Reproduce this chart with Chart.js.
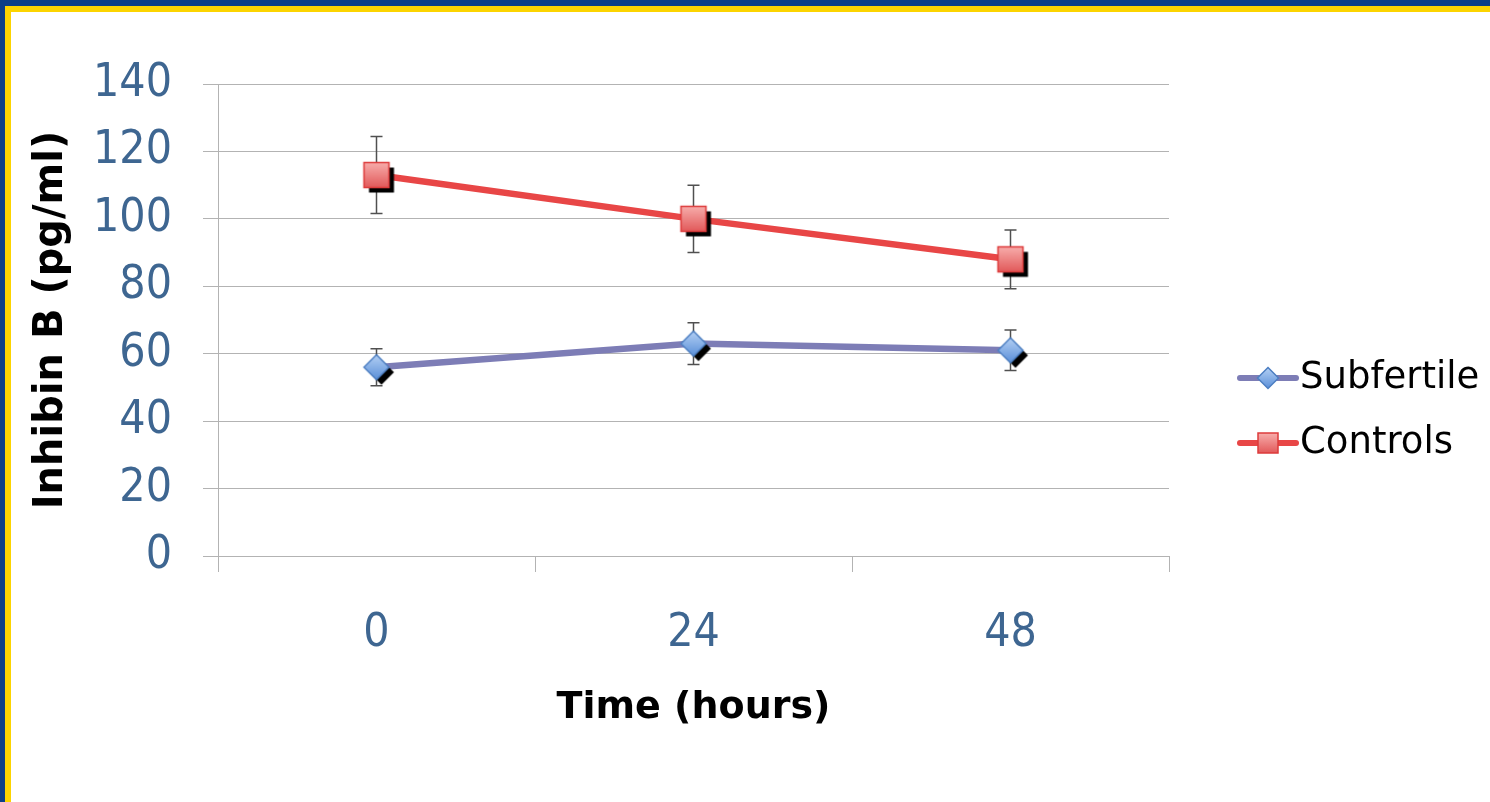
<!DOCTYPE html>
<html>
<head>
<meta charset="utf-8">
<script src="https://cdn.jsdelivr.net/npm/chart.js@4/dist/chart.umd.min.js"></script>
<style>
  html, body { margin: 0; padding: 0; width: 1490px; height: 802px; overflow: hidden; background: #0c3f86; }
  #frame { position: absolute; left: 5px; top: 6px; width: 1485px; height: 796px; background: #fcd400; }
  #inner { position: absolute; left: 11px; top: 12px; width: 1479px; height: 790px; background: #fff; }
  #wrap { position: absolute; left: 12px; top: 12px; width: 1478px; height: 790px; }
</style>
</head>
<body>
<div id="frame"></div>
<div id="inner"></div>
<div id="wrap"><canvas id="c"></canvas></div>
<script>
// ---- data ----
const categories = ['0', '24', '48'];
const seriesNames = ['Subfertile', 'Controls'];
const subfertile = [56, 63, 61];
const subfertileErr = [5.5, 6.2, 6];
const controls = [113, 100, 88];
const controlsErr = [11.4, 10, 8.7];
const yTicks = [0, 20, 40, 60, 80, 100, 120, 140];
const xTitle = 'Time (hours)';
const yTitle = 'Inhibin B (pg/ml)';

// ---- marker images ----
function makeMarker(shape, r, top, bot, stroke, shadow) {
  const off = shadow ? 5 : 0;
  const half = Math.ceil(r + 2 + off);
  const cv = document.createElement('canvas');
  cv.width = cv.height = half * 2;
  const g = cv.getContext('2d');
  const c = half;
  function path(cx, cy) {
    g.beginPath();
    if (shape === 'rect') {
      g.rect(cx - r, cy - r, 2 * r, 2 * r);
    } else {
      g.moveTo(cx, cy - r); g.lineTo(cx + r, cy); g.lineTo(cx, cy + r); g.lineTo(cx - r, cy); g.closePath();
    }
  }
  if (shadow) { path(c + off, c + off); g.fillStyle = '#000'; g.fill(); }
  const grad = g.createLinearGradient(0, c - r, 0, c + r);
  grad.addColorStop(0, top); grad.addColorStop(1, bot);
  path(c, c); g.fillStyle = grad; g.fill();
  g.lineWidth = 1.5; g.strokeStyle = stroke; g.stroke();
  return cv;
}
const diamondPt = makeMarker('diamond', 12.5, '#b4d0f4', '#5a8fd8', '#4d7fc2', true);
const squarePt = makeMarker('rect', 12.5, '#f7adab', '#e2595a', '#dd3b3b', true);
const diamondLg = makeMarker('diamond', 10.5, '#b4d0f4', '#5a8fd8', '#4d7fc2', false);
const squareLg = makeMarker('rect', 10, '#f7adab', '#e2595a', '#dd3b3b', false);

const tickColor = '#3e6691';
const gridColor = '#b3b3b3';
const tickFont = { family: "'DejaVu Sans Condensed', 'DejaVu Sans', sans-serif", size: 46 };
const xTitleFont = { family: "'DejaVu Sans', sans-serif", size: 38, weight: 'bold' };
const yTitleFont = { family: "'DejaVu Sans', sans-serif", size: 40, weight: 'bold' };

const errorBars = {
  id: 'errorBars',
  beforeDatasetsDraw(chart) {
    const ctx = chart.ctx;
    const ys = chart.scales.y;
    ctx.save();
    ctx.strokeStyle = '#505050';
    ctx.lineWidth = 1.5;
    chart.data.datasets.forEach((ds, di) => {
      const meta = chart.getDatasetMeta(di);
      meta.data.forEach((pt, i) => {
        const v = ds.data[i], e = ds.errors[i];
        const yt = ys.getPixelForValue(v + e), yb = ys.getPixelForValue(v - e);
        ctx.beginPath();
        ctx.moveTo(pt.x, yt); ctx.lineTo(pt.x, yb);
        ctx.moveTo(pt.x - 6, yt); ctx.lineTo(pt.x + 6, yt);
        ctx.moveTo(pt.x - 6, yb); ctx.lineTo(pt.x + 6, yb);
        ctx.stroke();
      });
    });
    ctx.restore();
  }
};

const sideLegend = {
  id: 'sideLegend',
  afterDraw(chart) {
    const ctx = chart.ctx;
    const x0 = chart.chartArea.right + 71;
    const yStart = 366, gap = 65;
    ctx.save();
    chart.data.datasets.forEach((ds, i) => {
      const y = yStart + i * gap;
      ctx.beginPath();
      ctx.strokeStyle = ds.borderColor;
      ctx.lineWidth = 6;
      ctx.lineCap = 'round';
      ctx.moveTo(x0, y); ctx.lineTo(x0 + 56, y);
      ctx.stroke();
      const img = ds.legendImg;
      ctx.drawImage(img, x0 + 28 - img.width / 2, y - img.height / 2);
      ctx.fillStyle = '#000';
      ctx.font = "37px 'DejaVu Sans', sans-serif";
      ctx.textBaseline = 'middle';
      ctx.textAlign = 'left';
      ctx.fillText(ds.label, x0 + 60, y);
    });
    ctx.restore();
  }
};

new Chart(document.getElementById('c'), {
  type: 'line',
  data: {
    labels: categories,
    datasets: [
      { label: seriesNames[0], data: subfertile, errors: subfertileErr, borderColor: '#7d7db6', borderWidth: 6.5,
        pointStyle: diamondPt, legendImg: diamondLg, pointRadius: 14, fill: false, tension: 0 },
      { label: seriesNames[1], data: controls, errors: controlsErr, borderColor: '#e84646', borderWidth: 6.5,
        pointStyle: squarePt, legendImg: squareLg, pointRadius: 14, fill: false, tension: 0 }
    ]
  },
  options: {
    responsive: true,
    maintainAspectRatio: false,
    animation: false,
    events: [],
    layout: { padding: { top: 72, right: 321, left: 0, bottom: 0 } },
    plugins: { legend: { display: false }, tooltip: { enabled: false } },
    scales: {
      x: {
        type: 'category',
        offset: true,
        grid: { display: true, offset: true, drawOnChartArea: false, drawTicks: true, tickLength: 16, color: gridColor, lineWidth: 1 },
        border: { display: true, color: gridColor },
        ticks: { color: tickColor, font: tickFont, padding: 34, maxRotation: 0 },
        title: { display: true, text: xTitle, color: '#000', font: xTitleFont, padding: { top: 0, bottom: 71 } },
        afterFit(s) { s.height = 246; }
      },
      y: {
        min: 0, max: 140,
        afterBuildTicks(s) { s.ticks = yTicks.map(v => ({ value: v })); },
        grid: { color: gridColor, lineWidth: 1, drawTicks: true, tickLength: 15 },
        border: { display: true, color: gridColor },
        ticks: { color: tickColor, font: tickFont, padding: 31 },
        title: { display: true, text: yTitle, color: '#000', font: yTitleFont, padding: { top: 16, bottom: 0 } },
        afterFit(s) { s.width = 206; }
      }
    }
  },
  plugins: [errorBars, sideLegend]
});
</script>
</body>
</html>
